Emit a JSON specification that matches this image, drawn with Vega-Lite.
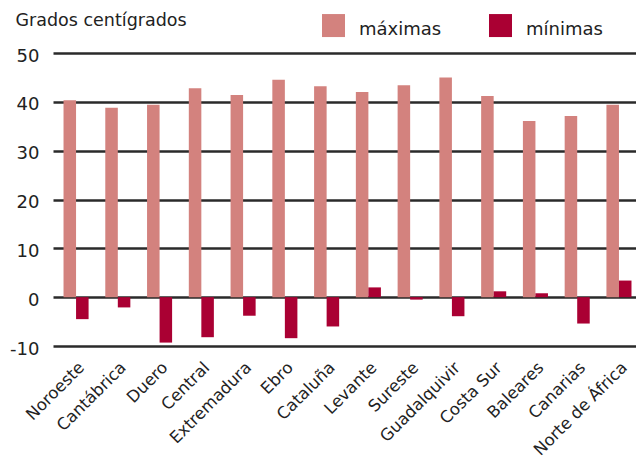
{
  "$schema": "https://vega.github.io/schema/vega-lite/v6.json",
  "width": 583,
  "height": 293,
  "autosize": {"type": "none"},
  "padding": {"left": 53, "top": 53, "right": 0, "bottom": 117},
  "background": "white",
  "config": {"view": {"stroke": null}, "font": "DejaVu Sans"},
  "data": {
    "values": [
      {"region": "Noroeste", "tipo": "máximas", "valor": 40.3},
      {"region": "Noroeste", "tipo": "mínimas", "valor": -4.5},
      {"region": "Cantábrica", "tipo": "máximas", "valor": 38.8},
      {"region": "Cantábrica", "tipo": "mínimas", "valor": -2.1},
      {"region": "Duero", "tipo": "máximas", "valor": 39.4},
      {"region": "Duero", "tipo": "mínimas", "valor": -9.3},
      {"region": "Central", "tipo": "máximas", "valor": 42.8},
      {"region": "Central", "tipo": "mínimas", "valor": -8.2},
      {"region": "Extremadura", "tipo": "máximas", "valor": 41.4},
      {"region": "Extremadura", "tipo": "mínimas", "valor": -3.8},
      {"region": "Ebro", "tipo": "máximas", "valor": 44.5},
      {"region": "Ebro", "tipo": "mínimas", "valor": -8.4},
      {"region": "Cataluña", "tipo": "máximas", "valor": 43.2},
      {"region": "Cataluña", "tipo": "mínimas", "valor": -6.0},
      {"region": "Levante", "tipo": "máximas", "valor": 42.0},
      {"region": "Levante", "tipo": "mínimas", "valor": 2.0},
      {"region": "Sureste", "tipo": "máximas", "valor": 43.4},
      {"region": "Sureste", "tipo": "mínimas", "valor": -0.5},
      {"region": "Guadalquivir", "tipo": "máximas", "valor": 45.0},
      {"region": "Guadalquivir", "tipo": "mínimas", "valor": -3.9},
      {"region": "Costa Sur", "tipo": "máximas", "valor": 41.2},
      {"region": "Costa Sur", "tipo": "mínimas", "valor": 1.2},
      {"region": "Baleares", "tipo": "máximas", "valor": 36.1},
      {"region": "Baleares", "tipo": "mínimas", "valor": 0.8},
      {"region": "Canarias", "tipo": "máximas", "valor": 37.1},
      {"region": "Canarias", "tipo": "mínimas", "valor": -5.4},
      {"region": "Norte de África", "tipo": "máximas", "valor": 39.4},
      {"region": "Norte de África", "tipo": "mínimas", "valor": 3.4}
    ]
  },
  "mark": {"type": "bar"},
  "encoding": {
    "x": {
      "field": "region",
      "type": "nominal",
      "sort": null,
      "scale": {"paddingInner": 0.4, "paddingOuter": 0.18, "align": 0.7},
      "axis": {
        "title": null,
        "labelAngle": -45,
        "labelAlign": "right",
        "labelBaseline": "top",
        "ticks": false,
        "domain": false,
        "labelPadding": 13,
        "labelFontSize": 16.5,
        "labelColor": "#222222"
      }
    },
    "xOffset": {"field": "tipo", "type": "nominal", "sort": ["máximas", "mínimas"]},
    "y": {
      "field": "valor",
      "type": "quantitative",
      "scale": {"domain": [-10, 50], "nice": false},
      "axis": {
        "values": [-10, 0, 10, 20, 30, 40, 50],
        "labelExpr": "replace(datum.label, '\u2212', '-')",
        "grid": true,
        "gridColor": "#2a2a2a",
        "gridWidth": 2.5,
        "gridOpacity": 1,
        "domain": false,
        "ticks": false,
        "labelPadding": 14,
        "labelOffset": 3,
        "labelFontSize": 18,
        "labelColor": "#222222",
        "title": "Grados centígrados",
        "titleAngle": 0,
        "titleX": -38,
        "titleY": -28,
        "titleAlign": "left",
        "titleBaseline": "alphabetic",
        "titleFontWeight": "normal",
        "titleFontSize": 17.5,
        "titleColor": "#222222"
      }
    },
    "color": {
      "field": "tipo",
      "type": "nominal",
      "scale": {"domain": ["máximas", "mínimas"], "range": ["#D3827E", "#AA0033"]},
      "legend": {
        "orient": "none",
        "legendX": 269,
        "legendY": -35,
        "direction": "horizontal",
        "title": null,
        "padding": 0,
        "symbolType": "M-1,-1.365H1V0.635H-1Z",
        "symbolSize": 529,
        "symbolStrokeWidth": 0,
        "symbolOpacity": 1,
        "labelFontSize": 18,
        "labelOffset": 14,
        "columnPadding": 47,
        "labelColor": "#222222",
        "labelBaseline": "middle"
      }
    }
  }
}
